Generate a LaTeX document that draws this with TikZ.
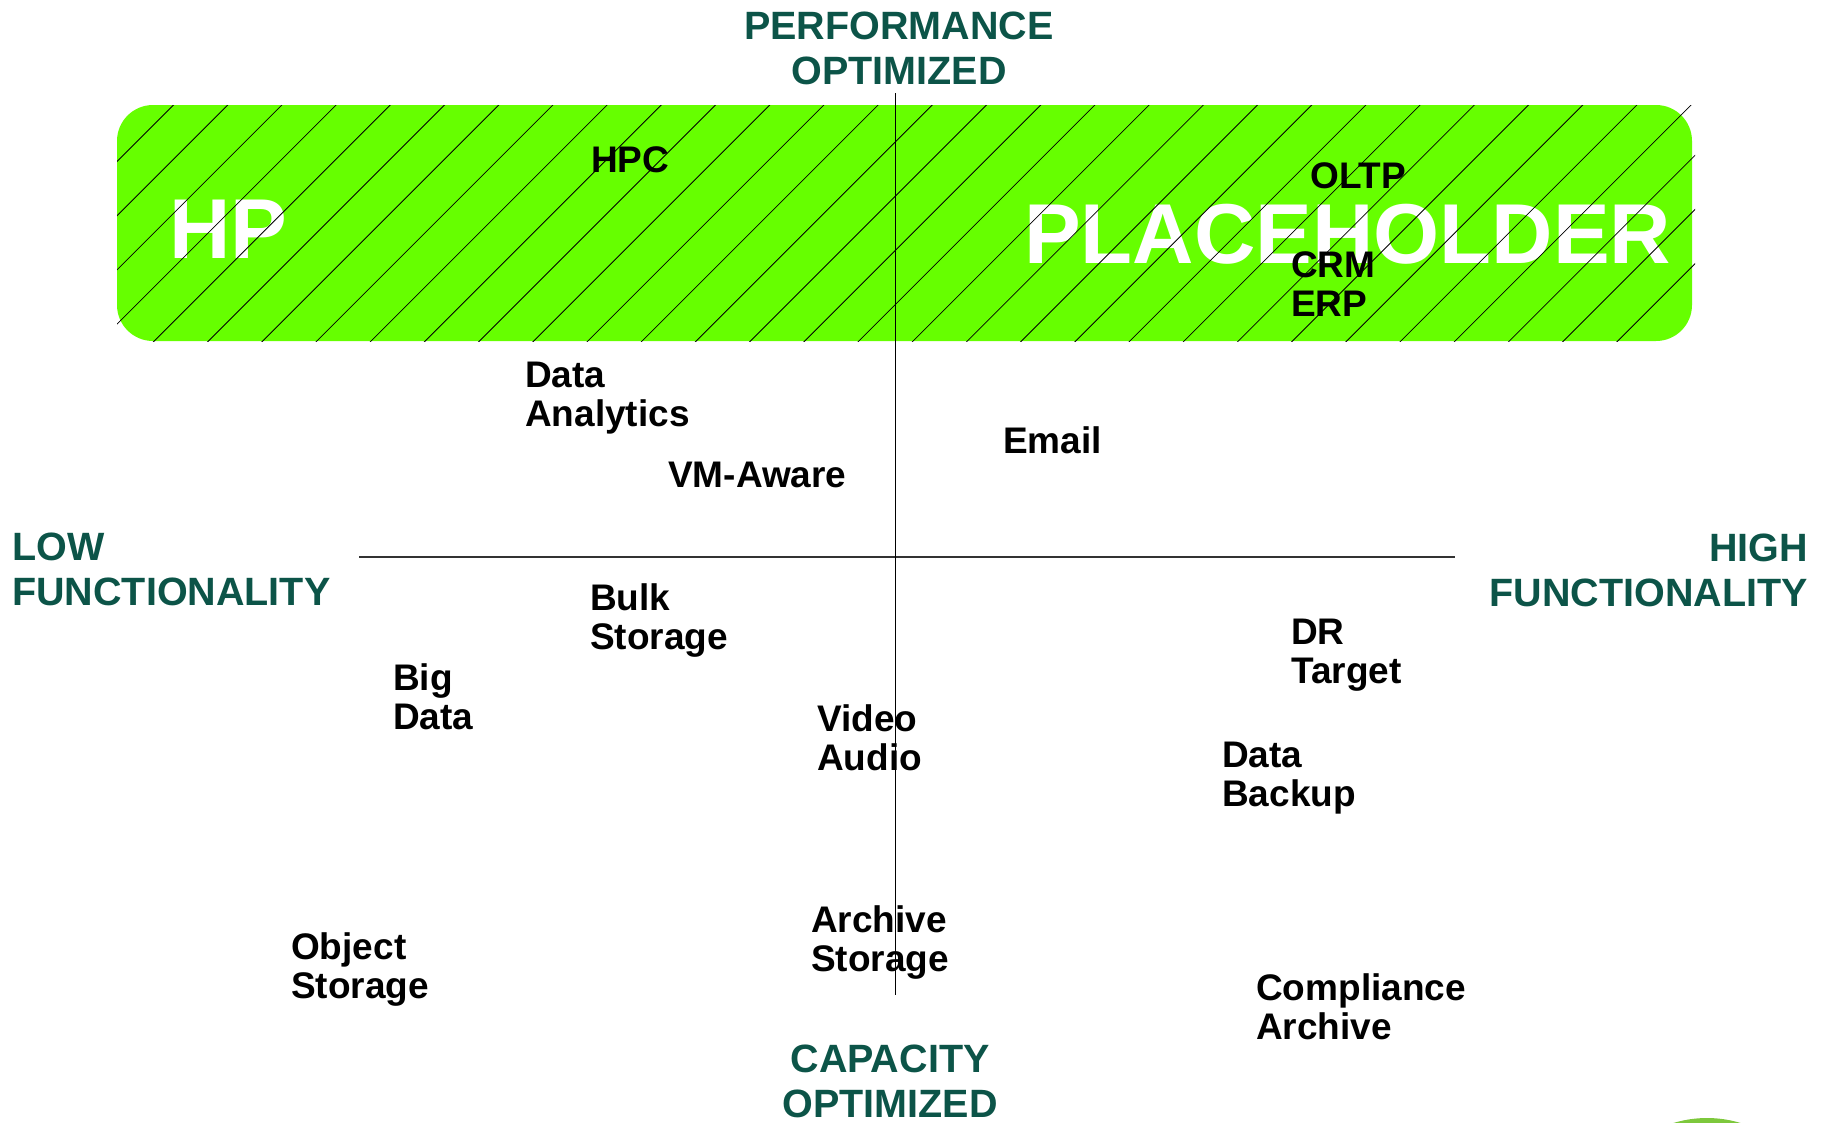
\documentclass[tikz,border=0pt]{standalone}
\usepackage{fontspec}
\setmainfont{Liberation Sans}
\definecolor{boxgreen}{RGB}{102,255,0}
\definecolor{axisteal}{RGB}{12,84,72}
\definecolor{logogreen}{RGB}{125,200,60}
\begin{document}
\begin{tikzpicture}[x=1pt,y=-1pt,
  lbl/.style={anchor=base west,inner sep=0pt,align=left,text=black,
    font=\fontsize{37}{38.4}\selectfont\bfseries},
  axislbl/.style={inner sep=0pt,text=axisteal,
    font=\fontsize{39.5}{44.5}\selectfont\bfseries},
  bigwhite/.style={anchor=base west,inner sep=0pt,text=white,
    font=\fontsize{85}{90}\selectfont\bfseries},
  hatchline/.style={black,line width=0.8pt},
  axisline/.style={black!80,line width=1.1pt}]
\useasboundingbox (0,0) rectangle (1826,1122);
\begin{scope}
\clip (0,0) rectangle (1826,1122);
% green box
\fill[boxgreen,rounded corners=36pt] (117,105) rectangle (1692,341);
\node[bigwhite] (hp) at (169,258) {HP};
\node[bigwhite] (ph) at (1024,263) {PLACEHOLDER};
\begin{scope}
\clip (117,105) rectangle (1695,341);
\foreach \k in {0,...,31} {
  \pgfmathsetmacro{\c}{278.5+54.2*\k}
  \draw[hatchline] (\c-80,80) -- (\c-370,370);
}
\end{scope}
% logo sliver
\fill[logogreen] (1707,1233) circle (115);
\end{scope}
% axes
\coordinate (vtop) at (895,93);
\coordinate (vbot) at (895,995);
\coordinate (hleft) at (359,557);
\coordinate (hright) at (1455,557);
\draw[axisline] (hleft) -- (hright);
\draw[black,line width=0.9pt] (vtop) -- (vbot);
% axis labels (anchor = baseline of last line)
\node[axislbl,anchor=base,align=center] (perf) at (899,84) {PERFORMANCE\\OPTIMIZED};
\node[axislbl,anchor=base,align=center] (cap) at (890,1117) {CAPACITY\\OPTIMIZED};
\node[axislbl,anchor=base west,align=left] (low) at (12,605) {LOW\\FUNCTIONALITY};
\node[axislbl,anchor=base east,align=right] (high) at (1808,606) {HIGH\\FUNCTIONALITY};
% workload labels (anchor = baseline of last line)
\node[lbl] (hpc) at (591,172) {HPC};
\node[lbl] (oltp) at (1310,188) {OLTP};
\node[lbl] (crm) at (1291,316) {CRM\\ERP};
\node[lbl] (analytics) at (525,426) {Data\\Analytics};
\node[lbl] (vm) at (668,487) {VM-Aware};
\node[lbl] (email) at (1003,453) {Email};
\node[lbl] (bulk) at (590,649) {Bulk\\Storage};
\node[lbl] (bigdata) at (393,729) {Big\\Data};
\node[lbl] (video) at (817,770) {Video\\Audio};
\node[lbl] (dr) at (1291,683) {DR\\Target};
\node[lbl] (backup) at (1222,806) {Data\\Backup};
\node[lbl] (archive) at (811,971) {Archive\\Storage};
\node[lbl] (object) at (291,998) {Object\\Storage};
\node[lbl] (compliance) at (1256,1039) {Compliance\\Archive};
\end{tikzpicture}
\end{document}
